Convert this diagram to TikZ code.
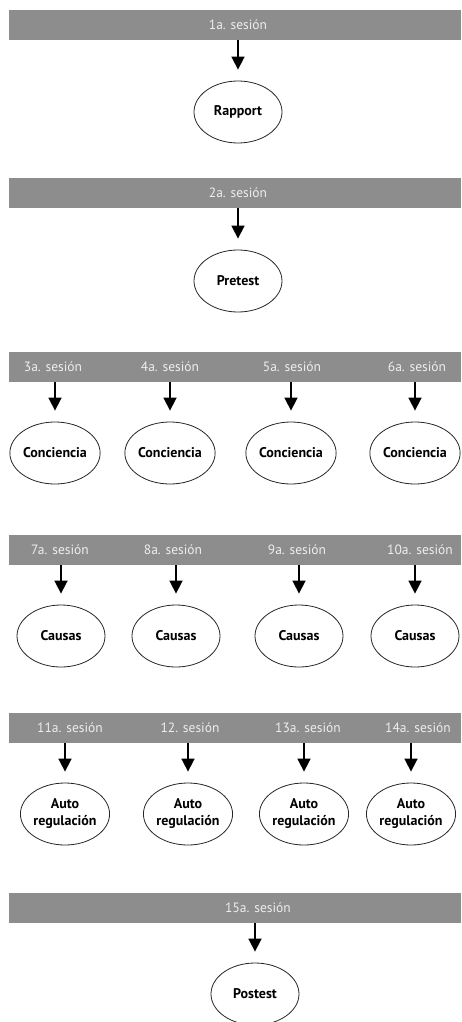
\documentclass[tikz,border=0pt]{standalone}
\usepackage{fontspec}
\setsansfont{PT Sans}
\usetikzlibrary{arrows.meta,shapes.geometric}
\definecolor{bargray}{RGB}{140,141,140}
\definecolor{bartext}{RGB}{238,238,238}

\begin{document}
\begin{tikzpicture}[x=1pt,y=-1pt,
    bar/.style={fill=bargray,draw=none,minimum height=30pt,minimum width=452pt,inner sep=0pt,anchor=north west},
    tag/.style={text=bartext,inner sep=0pt,font=\sffamily\fontsize{13.5}{15}\selectfont},
    oval/.style={ellipse,draw=black!85,line width=0.8pt,minimum width=88pt,minimum height=62pt,inner sep=0pt,align=center,font=\sffamily\bfseries\fontsize{14}{17}\selectfont},
    arr/.style={line width=1.6pt,-{Triangle[width=13pt,length=13pt]},shorten >=11pt}]
    \useasboundingbox (0,0) rectangle (461,1022);

    % Draw first session
    \node[bar] (b1) at (9,10) {};
    \node[tag] (s1) at (238,25) {1a. sesión};
    \node[oval] (e1) at (238,112) {Rapport};
    \draw[arr] (b1.south -| e1.north) -- (e1.north);

    % Draw second session
    \node[bar] (b2) at (9,178) {};
    \node[tag] (s2) at (238,193) {2a. sesión};
    \node[oval] (e2) at (238,281) {Pretest};
    \draw[arr] (b2.south -| e2.north) -- (e2.north);

    % Draw sessions 3 to 6
    \node[bar] (b3) at (9,352) {};
    \foreach \n/\x/\t/\lbl in {3/55/53/3a. sesión, 4/170/170/4a. sesión, 5/291/292/5a. sesión, 6/415/417/6a. sesión} {
        \node[tag] (s\n) at (\t,367) {\lbl};
        \node[oval] (e\n) at (\x,453) {Conciencia};
        \draw[arr] (b3.south -| e\n.north) -- (e\n.north);
    }

    % Draw sessions 7 to 10
    \node[bar] (b4) at (9,535) {};
    \foreach \n/\x/\t/\lbl in {7/61/60/7a. sesión, 8/176/173/8a. sesión, 9/299/297/9a. sesión, 10/415/420/10a. sesión} {
        \node[tag] (s\n) at (\t,550) {\lbl};
        \node[oval] (e\n) at (\x,636) {Causas};
        \draw[arr] (b4.south -| e\n.north) -- (e\n.north);
    }

    % Draw sessions 11 to 14
    \node[bar] (b5) at (9,713) {};
    \foreach \n/\x/\t/\lbl in {11/65/70/11a. sesión, 12/188/190/12. sesión, 13/304/308/13a. sesión, 14/411/418/14a. sesión} {
        \node[tag] (s\n) at (\t,728) {\lbl};
        \node[oval] (e\n) at (\x,814) {Auto\\regulación};
        \draw[arr] (b5.south -| e\n.north) -- (e\n.north);
    }

    % Draw last session
    \node[bar] (b6) at (9,893) {};
    \node[tag] (s15) at (258,908) {15a. sesión};
    \node[oval] (e15) at (255,994) {Postest};
    \draw[arr] (b6.south -| e15.north) -- (e15.north);
\end{tikzpicture}
\end{document}
